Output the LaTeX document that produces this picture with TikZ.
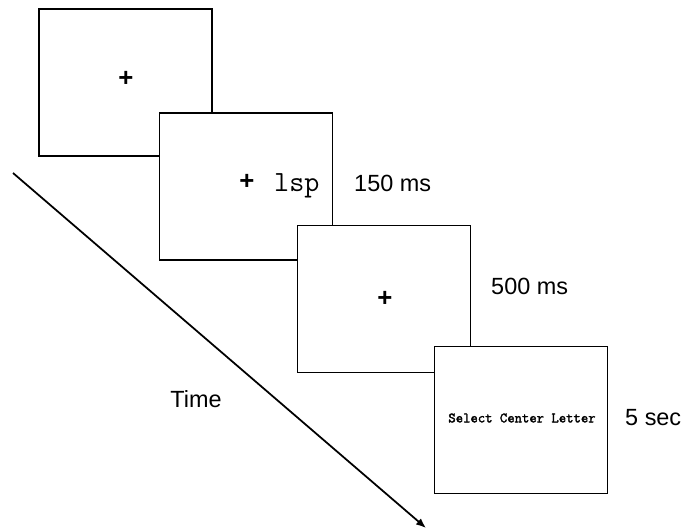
\documentclass[tikz,border=0pt]{standalone}
\usepackage{fontspec}
\setmainfont{Liberation Sans}
\setmonofont{Latin Modern Mono}
\newfontfamily\promptfont[FakeBold=2]{Latin Modern Mono}
\usetikzlibrary{arrows.meta}

\begin{document}
\begin{tikzpicture}[
  x=0.03cm, y=-0.03cm,
  >={Latex[length=3mm,width=2.4mm]},
  screen/.style={rectangle, draw=black, line width=1.6pt, fill=white,
                 minimum width=5.19cm, minimum height=4.41cm, inner sep=0pt},
  fixation/.style={font=\fontsize{22}{22}\selectfont\bfseries, inner sep=0pt},
  durlabel/.style={anchor=west, font=\fontsize{20}{24}\selectfont, inner sep=0pt},
]
\useasboundingbox (0,0) rectangle (689,531);

% ===== time axis =====
\coordinate (tstart) at (13,173);
\coordinate (tend) at (426,528);
\draw[->, line width=1.5pt] (tstart) -- (tend);
\node (time) [font=\fontsize{20}{24}\selectfont, inner sep=0pt] at (196,399) {Time};

% ===== screen 1: fixation =====
\node (scr1) [screen] at (125.5,82.5) {};
\node (fix1) [fixation] at (126,79) {+};

% ===== screen 2: fixation + letters =====
\node (scr2) [screen] at (246,186.5) {};
\node (fix2) [fixation] at (247,182) {+};
\node (letters) [anchor=base west, inner sep=0pt, font=\ttfamily\fontsize{25}{25}\selectfont] at (274,191) {lsp};
\node (dur2) [durlabel] at (354,183) {150 ms};

% ===== screen 3: fixation =====
\node (scr3) [screen] at (384,299) {};
\node (fix3) [fixation] at (385,299) {+};
\node (dur3) [durlabel] at (491,286) {500 ms};

% ===== screen 4: response =====
\node (scr4) [screen] at (521,420) {};
\node (prompt) [inner sep=0pt, font=\promptfont\fontsize{12.2}{14}\selectfont] at (522,418) {Select Center Letter};
\node (dur4) [durlabel] at (625,418) {5 sec};
\end{tikzpicture}
\end{document}
